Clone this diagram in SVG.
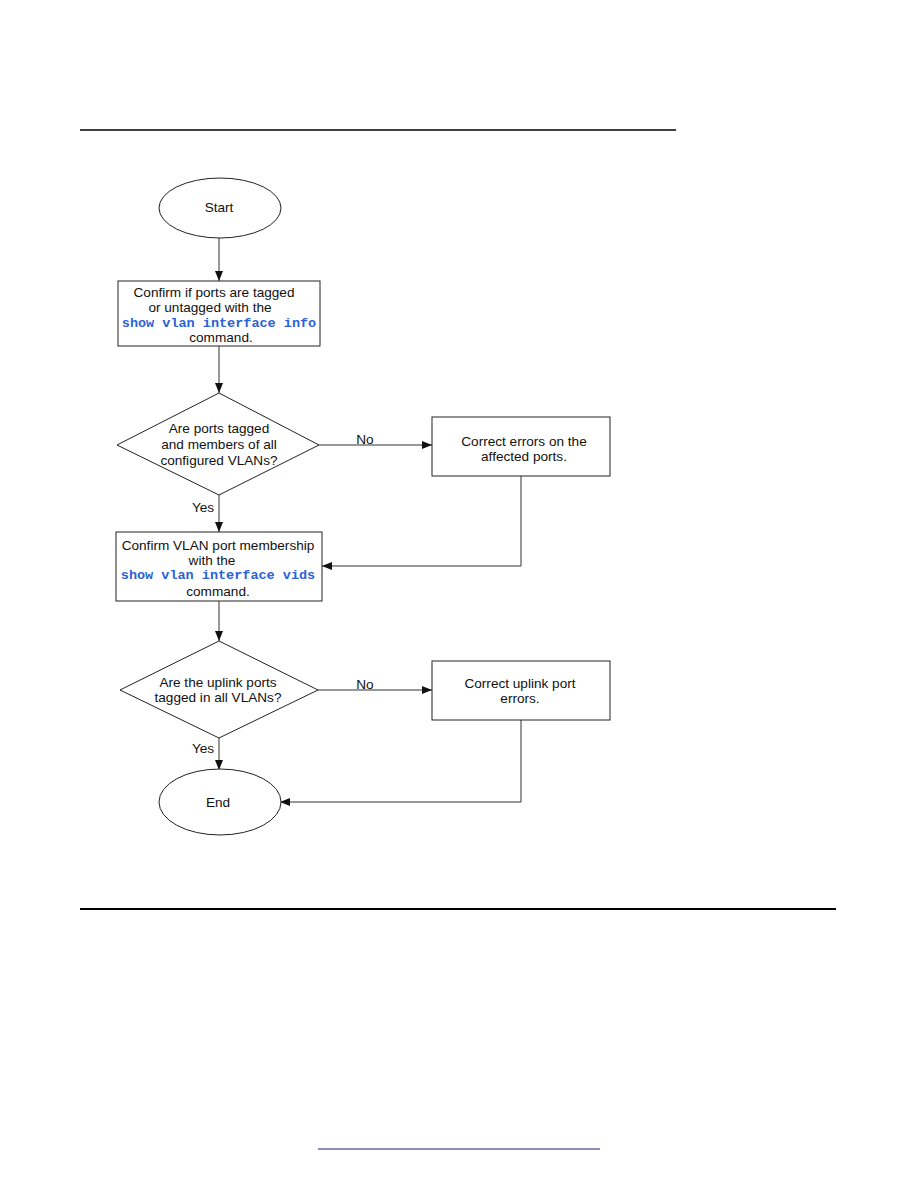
<svg xmlns="http://www.w3.org/2000/svg" width="918" height="1188" viewBox="0 0 918 1188">
<defs>
<style>
.s{fill:#fff;stroke:#222;stroke-width:1}
.t{font-family:"Liberation Sans",Arial,sans-serif;font-size:13.6px;fill:#111;text-anchor:middle}
.c{font-family:"Liberation Mono","Courier New",monospace;font-size:13.5px;font-weight:bold;fill:#2a62d8;text-anchor:middle}
.l{fill:none;stroke:#333;stroke-width:1}
</style>
<marker id="a" viewBox="0 0 10 10" refX="10" refY="5" markerWidth="10" markerHeight="10" markerUnits="userSpaceOnUse" orient="auto">
<path d="M0,1 L10,5 L0,9 Z" fill="#111"/>
</marker>
</defs>
<rect width="918" height="1188" fill="#fff"/>
<line x1="80" y1="130" x2="676" y2="130" stroke="#000" stroke-width="1.5"/>
<line x1="80" y1="909" x2="836" y2="909" stroke="#000" stroke-width="2"/>
<line x1="318" y1="1149" x2="600" y2="1149" stroke="#1a1a7a" stroke-width="1"/>
<g id="connectors">
<line class="l" x1="219" y1="238" x2="219" y2="281" marker-end="url(#a)"/>
<line class="l" x1="219" y1="346" x2="219" y2="393" marker-end="url(#a)"/>
<line class="l" x1="319" y1="445" x2="432" y2="445" marker-end="url(#a)"/>
<text class="t" x="365" y="444">No</text>
<polyline class="l" points="521,476 521,566 322,566" marker-end="url(#a)"/>
<line class="l" x1="219" y1="495" x2="219" y2="532" marker-end="url(#a)"/>
<text class="t" x="203" y="512">Yes</text>
<line class="l" x1="219" y1="601" x2="219" y2="641" marker-end="url(#a)"/>
<line class="l" x1="318" y1="690" x2="432" y2="690" marker-end="url(#a)"/>
<text class="t" x="365" y="689">No</text>
<line class="l" x1="219" y1="738" x2="219" y2="770" marker-end="url(#a)"/>
<text class="t" x="203" y="753">Yes</text>
<polyline class="l" points="521,720 521,802 280,802" marker-end="url(#a)"/>
</g>
<g id="start">
<ellipse class="s" cx="220" cy="208" rx="61" ry="30"/>
<text class="t" x="219" y="212">Start</text>
</g>
<g id="confirm-tagged">
<rect class="s" x="118" y="281" width="202" height="65"/>
<text class="t" x="214" y="296.5">Confirm if ports are tagged</text>
<text class="t" x="210" y="311.5">or untagged with the</text>
<text class="c" x="219" y="326.5">show vlan interface info</text>
<text class="t" x="221" y="341.5">command.</text>
</g>
<g id="decision-tagged">
<polygon class="s" points="219,393 319,445 219,495 117,445"/>
<text class="t" x="219" y="432.5">Are ports tagged</text>
<text class="t" x="219" y="448.5">and members of all</text>
<text class="t" x="219" y="464.5">configured VLANs?</text>
</g>
<g id="correct-errors">
<rect class="s" x="432" y="417" width="178" height="59"/>
<text class="t" x="524" y="445.5">Correct errors on the</text>
<text class="t" x="524" y="460.5">affected ports.</text>
</g>
<g id="confirm-membership">
<rect class="s" x="116" y="532" width="206" height="69"/>
<text class="t" x="218" y="549.5">Confirm VLAN port membership</text>
<text class="t" x="212" y="564.5">with the</text>
<text class="c" x="218" y="578.5">show vlan interface vids</text>
<text class="t" x="218" y="595.5">command.</text>
</g>
<g id="decision-uplink">
<polygon class="s" points="219,641 318,690 219,738 120,690"/>
<text class="t" x="218" y="686.5">Are the uplink ports</text>
<text class="t" x="218" y="701.5">tagged in all VLANs?</text>
</g>
<g id="correct-uplink">
<rect class="s" x="432" y="661" width="178" height="59"/>
<text class="t" x="520" y="687.5">Correct uplink port</text>
<text class="t" x="520" y="702.5">errors.</text>
</g>
<g id="end">
<ellipse class="s" cx="220" cy="802" rx="61" ry="33"/>
<text class="t" x="218" y="807">End</text>
</g>
</svg>
